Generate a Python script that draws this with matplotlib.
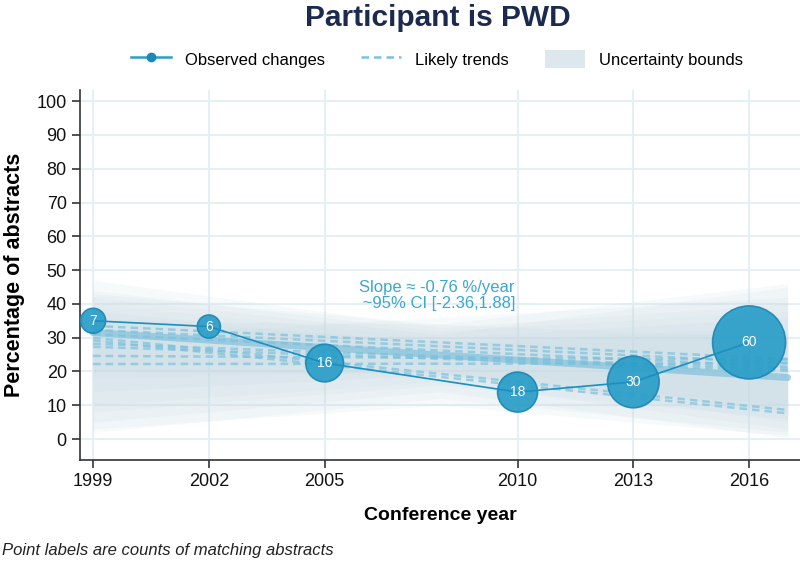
import matplotlib
matplotlib.use("Agg")
import matplotlib.pyplot as plt
from matplotlib.lines import Line2D
from matplotlib.patches import Patch

plt.rcParams['font.family'] = ['Liberation Sans', 'DejaVu Sans']

# ---- data ----
years = [1999, 2002, 2005, 2010, 2013, 2016]
pct = [35.0, 33.3, 22.5, 13.9, 16.9, 28.6]
counts = [7, 6, 16, 18, 30, 60]
yticks = [0, 10, 20, 30, 40, 50, 60, 70, 80, 90, 100]

trend_x = [1999, 2017]
main_trend = [31.5, 18.2]
likely_starts = [33.5, 32.3, 31.0, 30.0, 29.2, 28.2, 27.3, 24.6, 22.2]
likely_ends = [23.7, 22.6, 21.4, 8.6, 7.6, 20.8, 20.2, 23.5, 22.4]

band_x = [1999, 2008, 2017]
band_lo = [[22, 22, 8], [18, 20, 5], [10, 17, 3], [5, 14, 0.5], [2, 12, 2],
           [14, 19, 10], [8, 16, 6], [3, 10, 1], [20, 19, 8]]
band_hi = [[47, 33, 40], [44, 32, 38], [42, 31, 45], [40, 30, 36], [36, 29, 33],
           [38, 28, 32], [35, 34, 46], [30, 36, 42], [43, 34, 30]]

# ---- style ----
c_obs = '#2b9ec8'
c_obs_edge = '#1d88b6'
c_line = '#1a8fc0'
c_dash = '#7cc1dc'
c_main = '#86c3dc'
c_band = '#c6d9e3'
c_title = '#1b2a4e'
c_grid = '#e6eff3'

fig = plt.figure(figsize=(8, 5.63), dpi=100)
ax = fig.add_axes([0.1, 1 - 460 / 563, 0.9, (460 - 90) / 563])

for lo, hi in zip(band_lo, band_hi):
    ax.fill_between(band_x, lo, hi, color=c_band, alpha=0.13, lw=0, zorder=1)

ax.plot(trend_x, main_trend, color=c_main, lw=5, alpha=0.75, zorder=2,
        solid_capstyle='round')
for s, e in zip(likely_starts, likely_ends):
    ax.plot(trend_x, [s, e], color=c_dash, lw=1.8, ls=(0, (3, 2)),
            alpha=0.7, zorder=2)

ax.scatter(years, pct, s=[46 * n for n in counts], color=c_obs,
           edgecolor=c_obs_edge, linewidth=1.2, alpha=0.93, zorder=3)
ax.plot(years, pct, color=c_line, lw=1.2, zorder=4)
for yr, p, n in zip(years, pct, counts):
    ax.text(yr, p, str(n), color='white', fontsize=10, ha='center',
            va='center', zorder=6)

ax.text(2007.9, 42.5, 'Slope ≈ -0.76 %/year\n ~95% CI [-2.36,1.88]',
        color='#3ba7d1', fontsize=12, ha='center', va='center',
        linespacing=1.05, zorder=6)

ax.set_xlim(1998.66, 2017.32)
ax.set_ylim(-6.2, 103.3)
ax.set_xticks(years)
ax.set_yticks(yticks)
ax.tick_params(axis='both', labelsize=13, length=6, width=1.2,
               direction='out', color='#333333', labelcolor='#111111')
ax.grid(True, color=c_grid, lw=1.5, zorder=0)
ax.set_axisbelow(True)
for sp in ['top', 'right']:
    ax.spines[sp].set_visible(False)
for sp in ['left', 'bottom']:
    ax.spines[sp].set_color('#333333')
    ax.spines[sp].set_linewidth(1.2)

ax.set_xlabel('Conference year', fontsize=14, fontweight='bold', labelpad=12)
ax.set_ylabel('Percentage of abstracts', fontsize=15.5, fontweight='bold',
              labelpad=8)

fig.text(0.547, 1 - 18 / 563, 'Participant is PWD', fontsize=21.5,
         fontweight='bold', color=c_title, ha='center', va='center')

handles = [
    Line2D([], [], color=c_obs, lw=1.8, marker='o', markersize=6,
           markerfacecolor=c_obs_edge, markeredgecolor=c_obs_edge),
    Line2D([], [], color=c_dash, lw=1.8, ls=(0, (3, 2))),
    Patch(facecolor='#dde8ee', edgecolor='none'),
]
fig.legend(handles, ['Observed changes', 'Likely trends', 'Uncertainty bounds'],
           loc='center', bbox_to_anchor=(437 / 800, 1 - 59 / 563), ncol=3,
           frameon=False, fontsize=12, handlelength=2.4, handleheight=1.3,
           handletextpad=0.8, columnspacing=2.2)

fig.text(0.002, 1 - 551 / 563, 'Point labels are counts of matching abstracts',
         fontsize=12, style='italic', ha='left', va='center', color='#222222')

fig.savefig('out.png', dpi=100)
